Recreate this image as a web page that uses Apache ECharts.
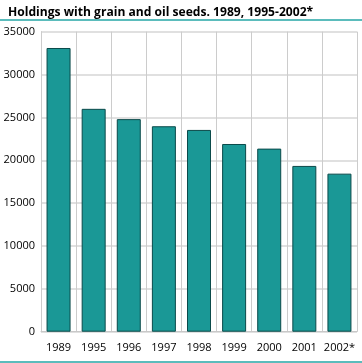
<!DOCTYPE html>
<html><head><meta charset="utf-8">
<script src="https://cdn.jsdelivr.net/npm/echarts@6/dist/echarts.min.js"></script>
<style>html,body{margin:0;padding:0;background:#fff}#c{width:362px;height:363px}</style>
</head><body><div id="c"></div>
<script>
var titleText = 'Holdings with grain and oil seeds. 1989, 1995-2002*';
var categories = ['1989','1995','1996','1997','1998','1999','2000','2001','2002*'];
var holdings = [33100, 26000, 24800, 23970, 23540, 21900, 21360, 19340, 18440];
var yTicks = [0, 5000, 10000, 15000, 20000, 25000, 30000, 35000];

var chart = echarts.init(document.getElementById('c'));
chart.setOption({
  animation: false,
  title: {
    text: titleText, left: 3, top: 2,
    textStyle: {fontFamily: 'Open Sans', fontWeight: 'bold', fontSize: 12.1, color: '#000'}
  },
  graphic: [
    {type: 'rect', shape: {x: 0, y: 19, width: 362, height: 2}, style: {fill: '#5bbcbc'}},
    {type: 'rect', shape: {x: 0, y: 361, width: 362, height: 2}, style: {fill: '#5bbcbc'}}
  ],
  grid: {left: 41, right: 5, top: 31.7, bottom: 31.3, containLabel: false},
  xAxis: {
    type: 'category', data: categories,
    axisLine: {show: true, lineStyle: {color: '#c8c8c8', width: 1}},
    axisTick: {show: false},
    splitLine: {show: true, interval: 0, lineStyle: {color: '#cccccc', width: 1}},
    axisLabel: {interval: 0, fontFamily: 'Open Sans', fontSize: 11, color: '#000', margin: 11}
  },
  yAxis: {
    type: 'value', min: yTicks[0], max: yTicks[yTicks.length - 1], interval: 5000,
    axisLine: {show: true, lineStyle: {color: '#cccccc', width: 1}},
    axisTick: {show: false},
    splitLine: {show: true, lineStyle: {color: '#e0e0e0', width: 2}},
    axisLabel: {fontFamily: 'Open Sans', fontSize: 11, color: '#000', margin: 6, padding: [8, 0, 0, 0],
      formatter: function (v) { return String(v); }}
  },
  series: [{
    type: 'bar', data: holdings, barWidth: 24,
    itemStyle: {color: '#1a9896', borderColor: '#0b4a4a', borderWidth: 1}
  }]
});
</script></body></html>
